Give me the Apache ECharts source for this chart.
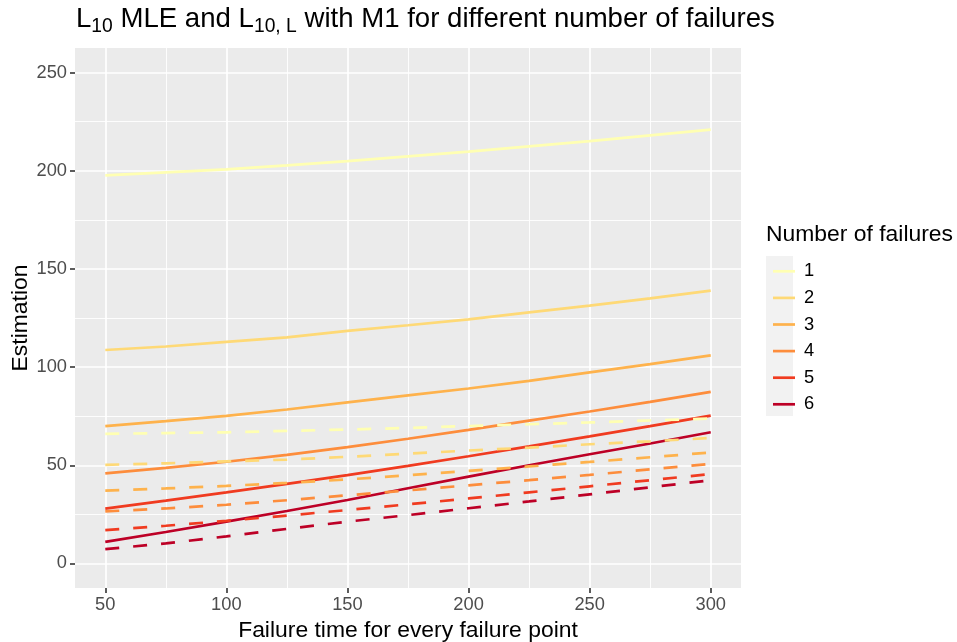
<!DOCTYPE html>
<html>
<head>
<meta charset="utf-8">
<script src="https://cdn.jsdelivr.net/npm/echarts@6/dist/echarts.min.js"></script>
<style>
html,body{margin:0;padding:0;background:#fff;}
#chart{width:957px;height:642px;}
</style>
</head>
<body>
<div id="chart"></div>
<script>
// ---- data ----
const xValues = [50, 75, 100, 125, 150, 175, 200, 225, 250, 275, 300];
const failureLabels = ['1', '2', '3', '4', '5', '6'];
const xTickValues = [50, 100, 150, 200, 250, 300];
const xMinorValues = [75, 125, 175, 225, 275];
const yTickValues = [0, 50, 100, 150, 200, 250];
const yMinorValues = [25, 75, 125, 175, 225];

// L10 MLE (solid)
const mle1 = [197.6, 199.2, 200.7, 202.7, 204.9, 207.3, 209.7, 212.4, 215.1, 218.0, 220.9];
const mle2 = [108.7, 110.5, 112.8, 115.1, 118.4, 121.3, 124.3, 127.9, 131.3, 135.0, 138.9];
const mle3 = [69.9, 72.5, 75.2, 78.4, 82.0, 85.6, 89.1, 93.0, 97.3, 101.5, 106.0];
const mle4 = [45.9, 48.7, 51.8, 55.3, 59.2, 63.5, 68.0, 72.7, 77.4, 82.3, 87.4];
const mle5 = [27.9, 32.0, 36.2, 40.5, 45.0, 49.7, 54.6, 59.6, 64.7, 69.9, 75.3];
const mle6 = [11.0, 16.0, 21.3, 26.7, 32.3, 38.3, 44.2, 50.0, 55.6, 61.1, 66.8];

// L10,L (dashed)
const low1 = [66.0, 66.4, 66.8, 67.5, 68.2, 69.0, 70.0, 70.9, 71.8, 72.8, 73.8];
const low2 = [50.2, 51.0, 52.0, 52.9, 54.3, 55.9, 57.5, 59.0, 60.7, 62.2, 63.9];
const low3 = [37.1, 38.2, 39.5, 41.0, 42.8, 44.9, 47.1, 49.4, 51.7, 54.1, 56.5];
const low4 = [26.5, 28.0, 29.9, 32.2, 34.7, 37.2, 39.8, 42.4, 45.1, 47.9, 50.7];
const low5 = [17.0, 19.2, 21.7, 24.4, 27.2, 30.1, 33.1, 36.2, 39.3, 42.4, 45.5];
const low6 = [7.3, 10.2, 13.8, 17.6, 21.3, 24.6, 28.1, 31.6, 35.2, 38.8, 42.4];

const mleAll = [mle1, mle2, mle3, mle4, mle5, mle6];
const lowAll = [low1, low2, low3, low4, low5, low6];
const palette = ['#FFFFB2', '#FED976', '#FEB24C', '#FD8D3C', '#F03B20', '#BD0026'];

const FONT = '"Liberation Sans", Arial, Helvetica, sans-serif';
const LINE_W = 2.7;

function toPairs(arr) { return xValues.map((x, i) => [x, arr[i]]); }

const series = [];
mleAll.forEach((arr, k) => {
  series.push({
    name: failureLabels[k], type: 'line', data: toPairs(arr),
    symbol: 'none', showSymbol: false, smooth: false,
    xAxisIndex: 0, yAxisIndex: 0,
    lineStyle: { color: palette[k], width: LINE_W, type: 'solid', cap: 'butt' },
    itemStyle: { color: palette[k] },
    emphasis: { disabled: true }, z: 3
  });
});
lowAll.forEach((arr, k) => {
  series.push({
    name: failureLabels[k], type: 'line', data: toPairs(arr),
    symbol: 'none', showSymbol: false, smooth: false,
    xAxisIndex: 0, yAxisIndex: 0,
    lineStyle: { color: palette[k], width: LINE_W, type: [14, 14], cap: 'butt' },
    itemStyle: { color: palette[k] },
    emphasis: { disabled: true }, z: 4
  });
});

// legend key: a horizontal bar centred in a 22 x 26.6 box
const legendIcon = 'path://M0,0 M0,11.95 L22,11.95 L22,14.65 L0,14.65 Z M22,26.6';

const chart = echarts.init(document.getElementById('chart'), null, { renderer: 'canvas' });
chart.setOption({
  animation: false,
  backgroundColor: '#ffffff',
  title: [
    {
      left: 76, top: 2, padding: 0,
      text: '{n|L}{s|10}{n| MLE and L}{s|10, L}{n| with M1 for different number of failures}',
      textStyle: {
        rich: {
          n: { fontSize: 27.6, fontWeight: 'normal', fontFamily: FONT, color: '#000', lineHeight: 34 },
          s: { fontSize: 19.3, fontWeight: 'normal', fontFamily: FONT, color: '#000', lineHeight: 21, verticalAlign: 'bottom' }
        }
      }
    },
    {
      left: 766, top: 223, padding: 0,
      text: 'Number of failures',
      textStyle: { fontSize: 22.9, fontWeight: 'normal', fontFamily: FONT, color: '#000' }
    }
  ],
  grid: {
    left: 75, top: 48, width: 666, height: 540,
    show: true, backgroundColor: '#EBEBEB', borderWidth: 0,
    containLabel: false, outerBoundsMode: 'none'
  },
  legend: {
    orient: 'vertical', left: 768, top: 253,
    itemWidth: 22, itemHeight: 26.6, itemGap: 0,
    icon: legendIcon,
    data: failureLabels,
    selectedMode: false,
    textStyle: { fontSize: 18.3, color: '#000', fontFamily: FONT, padding: [0, 0, 0, 4] }
  },
  graphic: [
    { type: 'rect', left: 766, top: 256, z: -1, shape: { width: 27, height: 160 }, style: { fill: '#F2F2F2' } }
  ],
  xAxis: [
    {
      type: 'value', min: 37.5, max: 312.5, position: 'bottom',
      name: 'Failure time for every failure point', nameLocation: 'middle', nameGap: 20,
      nameTextStyle: { fontSize: 22.9, color: '#000', fontFamily: FONT },
      axisLine: { show: false, onZero: false },
      axisTick: { show: true, customValues: xTickValues, length: 5, lineStyle: { color: '#333333', width: 1.6 } },
      axisLabel: { customValues: xTickValues, margin: 8, fontSize: 18.3, color: '#4D4D4D', fontFamily: FONT },
      splitLine: { show: true, lineStyle: { color: '#FFFFFF', width: 1.7 } }
    },
    {
      type: 'value', min: 37.5, max: 312.5, position: 'top',
      axisLine: { show: false, onZero: false },
      axisTick: { show: false, customValues: xMinorValues },
      axisLabel: { show: false, customValues: xMinorValues },
      splitLine: { show: true, lineStyle: { color: '#FFFFFF', width: 0.9 } }
    }
  ],
  yAxis: [
    {
      type: 'value', min: -12.5, max: 262.5, position: 'left',
      name: 'Estimation', nameLocation: 'middle', nameGap: 43, nameRotate: 90,
      nameMoveOverlap: false,
      nameTextStyle: { fontSize: 22.9, color: '#000', fontFamily: FONT },
      axisLine: { show: false, onZero: false },
      axisTick: { show: true, customValues: yTickValues, length: 5, lineStyle: { color: '#333333', width: 1.6 } },
      axisLabel: { customValues: yTickValues, margin: 8, fontSize: 18.3, color: '#4D4D4D', fontFamily: FONT },
      splitLine: { show: true, lineStyle: { color: '#FFFFFF', width: 1.7 } }
    },
    {
      type: 'value', min: -12.5, max: 262.5, position: 'right',
      axisLine: { show: false, onZero: false },
      axisTick: { show: false, customValues: yMinorValues },
      axisLabel: { show: false, customValues: yMinorValues },
      splitLine: { show: true, lineStyle: { color: '#FFFFFF', width: 0.9 } }
    }
  ],
  series: series
});
</script>
</body>
</html>
